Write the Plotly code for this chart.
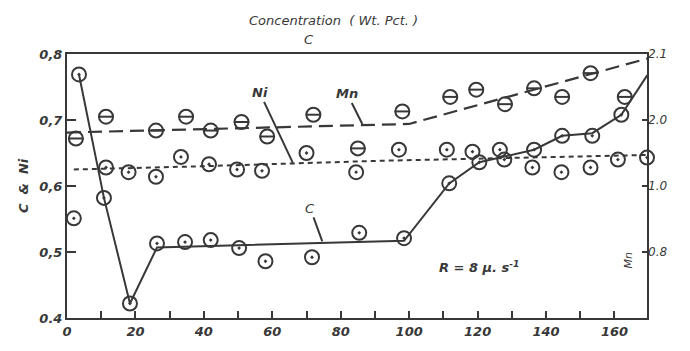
import plotly.graph_objects as go

# ---- data ----
c_x = [2, 3.5, 10.8, 18.4, 26.3, 34.5, 42, 50.3, 58, 71.6, 85.4, 98.5, 111.7, 120.5, 127.8, 136.5, 144.7, 153.5, 162, 169.6]
c_y = [0.551, 0.769, 0.582, 0.422, 0.513, 0.515, 0.518, 0.506, 0.486, 0.492, 0.529, 0.521, 0.604, 0.636, 0.640, 0.655, 0.676, 0.676, 0.708, 0.768]
c_line_x = [3.5, 10.8, 18.4, 26.3, 98.5, 111.7, 120.5, 136.5, 144.7, 153.5, 162, 169.6]
c_line_y = [0.769, 0.582, 0.422, 0.507, 0.517, 0.604, 0.636, 0.655, 0.676, 0.680, 0.708, 0.768]

ni_x = [11.4, 18, 26, 33.3, 41.5, 49.7, 57, 70, 84.5, 97, 111, 118.5, 126.5, 136, 144.5, 153, 161, 169.5]
ni_y = [0.628, 0.621, 0.614, 0.644, 0.633, 0.625, 0.623, 0.650, 0.621, 0.655, 0.655, 0.652, 0.655, 0.628, 0.621, 0.628, 0.640, 0.643]
ni_line_x = [2, 40, 90, 169.5]
ni_line_y = [0.625, 0.630, 0.638, 0.647]

mn_x = [2.6, 11.4, 26, 34.8, 42, 51, 58.5, 72, 85, 98, 112, 119.6, 128, 136.5, 144.7, 153, 163, 169.5]
mn_y = [1.972, 2.005, 1.984, 2.005, 1.984, 1.997, 1.975, 2.008, 1.957, 2.013, 2.035, 2.046, 2.024, 2.048, 2.035, 2.071, 2.035, 2.103]
mn_line_x = [0, 100, 169.5]
mn_line_y = [1.981, 1.994, 2.093]

x_tickvals = list(range(0, 170, 20))
x_ticktext = [str(v) for v in x_tickvals]
left_tickvals = [0.4, 0.5, 0.6, 0.7, 0.8]
left_ticktext = ["0.4", "0,5", "0,6", "0,7", "0,8"]
right_tickvals = [1.8, 1.9, 2.0, 2.1]
right_ticktext = ["0.8", "1.0", "2.0", "2.1"]

INK = "#383838"
FONT = dict(family="DejaVu Sans", size=13, color=INK, style="italic")
TICKFONT = dict(family="DejaVu Sans", size=13, color=INK, style="italic", weight="bold")

fig = go.Figure()

# lines
fig.add_trace(go.Scatter(x=c_line_x, y=c_line_y, mode="lines",
                         line=dict(color=INK, width=2), showlegend=False))
fig.add_trace(go.Scatter(x=ni_line_x, y=ni_line_y, mode="lines",
                         line=dict(color=INK, width=2, dash="5px,4px"), showlegend=False))
fig.add_trace(go.Scatter(x=mn_line_x, y=mn_line_y, mode="lines", yaxis="y2",
                         line=dict(color=INK, width=2.2, dash="14px,7px"), showlegend=False))

# markers
circ = dict(symbol="circle-open-dot", size=14, color=INK, line=dict(width=2, color=INK))
fig.add_trace(go.Scatter(x=c_x, y=c_y, mode="markers", marker=circ,
                         cliponaxis=False, showlegend=False))
fig.add_trace(go.Scatter(x=ni_x, y=ni_y, mode="markers", marker=circ,
                         cliponaxis=False, showlegend=False))
fig.add_trace(go.Scatter(x=mn_x, y=mn_y, mode="markers", yaxis="y2",
                         marker=dict(symbol="circle-open", size=14, color=INK,
                                     line=dict(width=2, color=INK)),
                         cliponaxis=False, showlegend=False))
fig.add_trace(go.Scatter(x=mn_x, y=mn_y, mode="markers", yaxis="y2",
                         marker=dict(symbol="line-ew-open", size=11, color=INK,
                                     line=dict(width=2, color=INK)),
                         cliponaxis=False, showlegend=False))

fig.update_layout(
    width=690, height=351,
    margin=dict(l=67, r=43, t=54, b=21),
    paper_bgcolor="white", plot_bgcolor="white",
    font=FONT,
    xaxis=dict(range=[0, 169.5], tickvals=x_tickvals, ticktext=x_ticktext,
               ticks="inside", ticklen=7, tickwidth=2, tickcolor=INK,
               minor=dict(dtick=10, tick0=0, ticks="inside", ticklen=7, tickwidth=2, tickcolor=INK),
               showline=True, linewidth=2, linecolor=INK, mirror=True,
               showgrid=False, zeroline=False, tickfont=TICKFONT),
    yaxis=dict(range=[0.4, 0.8], tickvals=left_tickvals, ticktext=left_ticktext,
               ticks="inside", ticklen=9, tickwidth=2, tickcolor=INK,
               showline=True, linewidth=2, linecolor=INK, mirror=True,
               showgrid=False, zeroline=False, tickfont=TICKFONT),
    yaxis2=dict(range=[1.7, 2.1], overlaying="y", side="right",
                tickvals=right_tickvals, ticktext=right_ticktext,
                ticks="inside", ticklen=5, tickwidth=2, tickcolor=INK,
                showline=False, showgrid=False, zeroline=False,
                tickfont=dict(family="DejaVu Sans", size=12, color=INK, style="italic")),
    annotations=[
        dict(text="Concentration  ( Wt. Pct. )", xref="paper", yref="paper",
             x=(333 - 67) / 580, y=1 + (54 - 19) / 276, xanchor="center", yanchor="middle",
             showarrow=False, font=FONT),
        dict(text="C", xref="paper", yref="paper",
             x=(309 - 67) / 580, y=1 + (54 - 39) / 276, xanchor="center", yanchor="middle",
             showarrow=False, font=FONT),
        dict(text="C  &  Ni", xref="paper", yref="paper",
             x=(23 - 67) / 580, y=(330 - 192) / 276, xanchor="center", yanchor="middle",
             textangle=-90, showarrow=False, font=TICKFONT),
        dict(text="Mn", xref="paper", yref="paper",
             x=(629 - 67) / 580, y=(330 - 270) / 276, xanchor="center", yanchor="middle",
             textangle=-90, showarrow=False, font=dict(family="DejaVu Sans", size=11, color=INK, style="italic")),
        dict(text="R = 8 μ. s<sup>-1</sup>", x=120.5, y=0.477, showarrow=False, font=TICKFONT),
        dict(text="Ni", x=66, y=0.635, ax=-33, ay=-70, showarrow=True, arrowhead=0,
             arrowwidth=2, arrowcolor=INK, font=TICKFONT),
        dict(text="Mn", x=86.3, y=0.694, ax=-15, ay=-30, showarrow=True, arrowhead=0,
             arrowwidth=2, arrowcolor=INK, font=TICKFONT),
        dict(text="C", x=74.6, y=0.516, ax=-12, ay=-33, showarrow=True, arrowhead=0,
             arrowwidth=2, arrowcolor=INK, font=FONT),
    ],
)

fig.write_html("out.html")
